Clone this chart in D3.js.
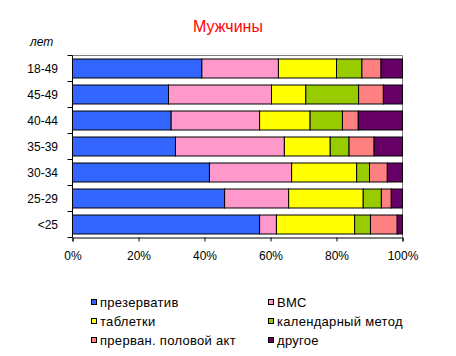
<!DOCTYPE html>
<html><head><meta charset="utf-8">
<script src="https://cdn.jsdelivr.net/npm/d3@7"></script>
<style>body{margin:0;background:#fff}svg{display:block;font-family:Arial,"Liberation Sans",sans-serif}</style>
</head><body><svg id="c" width="456" height="356"></svg>
<script>
const categories = ["18-49","45-49","40-44","35-39","30-34","25-29","<25"];
const seriesNames = ["презерватив","ВМС","таблетки","календарный метод","прерван. половой акт","другое"];
const colors = ["#3366FF","#FF99CC","#FFFF00","#99CC00","#FF8080","#660066"];
const condom   = [39.2, 29.1, 29.9, 31.2, 41.5, 46.1, 56.7];
const iud      = [23.2, 31.2, 26.8, 33.0, 24.9, 19.4, 5.1];
const pills    = [17.6, 10.4, 15.3, 13.9, 19.7, 22.6, 23.7];
const calendar = [7.7, 16.0, 9.8, 5.7, 3.9, 5.5, 4.8];
const withdraw = [5.8, 7.5, 4.8, 7.6, 5.4, 3.0, 8.1];
const other    = [6.5, 5.8, 13.4, 8.6, 4.6, 3.4, 1.6];
const xTicks = [0, 0.2, 0.4, 0.6, 0.8, 1.0];

const seriesVals = [condom, iud, pills, calendar, withdraw, other];
const rows = categories.map((c, i) => {
  const o = {cat: c};
  const tot = seriesVals.reduce((s, a) => s + a[i], 0);
  seriesNames.forEach((n, k) => o[n] = seriesVals[k][i] / tot);
  return o;
});
const stacked = d3.stack().keys(seriesNames)(rows);

const svg = d3.select("#c");
const L = 72.5, R = 402.5, T = 55.5, B = 237.5;
const x = d3.scaleLinear().domain([0, 1]).range([L, R]);
const y = d3.scaleBand().domain(categories).range([T, B]).paddingInner(0.27).paddingOuter(0.135);

svg.append("text").attr("x", 228).attr("y", 32).attr("text-anchor", "middle")
  .attr("fill", "#FF0000").attr("font-size", 16).text("Мужчины");
svg.append("text").attr("x", 30).attr("y", 46).attr("font-style", "italic")
  .attr("font-size", 12).attr("fill", "#000").text("лет");

// plot frame top/right
svg.append("path").attr("d", `M${L},${T}H${R}V${B}`).attr("fill", "none").attr("stroke", "#808080");

const g = svg.append("g");
stacked.forEach((s, k) => {
  g.selectAll(null).data(s).enter().append("rect")
    .attr("x", d => x(d[0])).attr("width", d => x(d[1]) - x(d[0]))
    .attr("y", d => y(d.data.cat)).attr("height", y.bandwidth())
    .attr("fill", colors[k]).attr("stroke", "#000").attr("stroke-width", 1);
});

// y axis
const ya = svg.append("g");
ya.append("line").attr("x1", L).attr("x2", L).attr("y1", T).attr("y2", B).attr("stroke", "#000");
const step = (B - T) / categories.length;
for (let i = 0; i <= categories.length; i++) {
  const yy = T + i * step;
  ya.append("line").attr("x1", L - 5).attr("x2", L).attr("y1", yy).attr("y2", yy).attr("stroke", "#000");
}
ya.selectAll(null).data(categories).enter().append("text")
  .attr("x", 58).attr("y", d => y(d) + y.bandwidth() / 2).attr("dy", "0.35em")
  .attr("text-anchor", "end").attr("font-size", 12).attr("fill", "#000").text(d => d);

// x axis
const xa = svg.append("g").attr("transform", `translate(0,${B})`)
  .call(d3.axisBottom(x).tickValues(xTicks).tickFormat(d3.format(".0%")).tickSize(4).tickPadding(10));
xa.select(".domain").attr("stroke", "#000");
xa.selectAll("line").attr("stroke", "#000");
xa.selectAll("text").attr("font-size", 12).attr("fill", "#000").attr("font-family", "Arial,'Liberation Sans',sans-serif");

// legend
const lg = svg.append("g");
seriesNames.forEach((n, k) => {
  const col = k % 2, row = Math.floor(k / 2);
  const lx = col === 0 ? 91.5 : 268.5, ly = 299.5 + row * 19;
  lg.append("rect").attr("x", lx).attr("y", ly).attr("width", 5).attr("height", 5)
    .attr("fill", colors[k]).attr("stroke", "#000");
  lg.append("text").attr("x", lx + 8.5).attr("y", ly + 2.5).attr("dy", "0.35em")
    .attr("font-size", 13).attr("letter-spacing", 0.3).attr("fill", "#000").text(n);
});
</script></body></html>
